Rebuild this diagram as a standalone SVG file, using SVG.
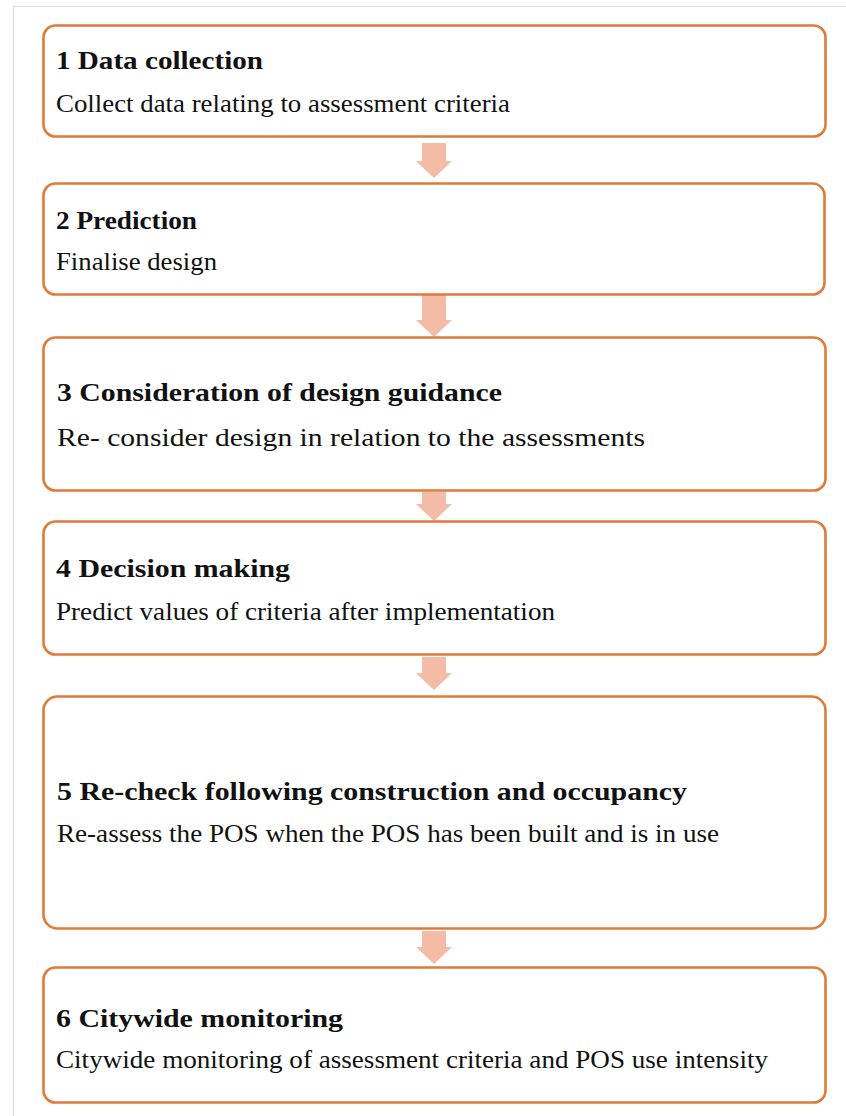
<svg xmlns="http://www.w3.org/2000/svg" width="846" height="1116" viewBox="0 0 846 1116">
  <style>
    .frame { fill: none; stroke: #dcdcdc; stroke-width: 1.2; }
    .box { fill: #ffffff; stroke: #e07a38; stroke-width: 2.6; }
    text { font-family: 'Liberation Serif', 'Times New Roman', Times, serif; font-size: 26px; fill: #111111; }
    .title { font-weight: bold; }
    .arrow { fill: #f4bba6; stroke: none; }
  </style>
  <rect x="0" y="0" width="846" height="1116" fill="#ffffff"/>
  <!-- page frame -->
  <path class="frame" d="M13.5,1116 V6.5 H846"/>

  <!-- connectors: block arrows between steps -->
  <g id="connectors">
    <path class="arrow" d="M422,143 H446 V161 H452 L434,178 L416,161 H422 Z"/>
    <path class="arrow" d="M422,295 H446 V320 H452 L434,337 L416,320 H422 Z"/>
    <path class="arrow" d="M422,492 H446 V504 H452 L434,521 L416,504 H422 Z"/>
    <path class="arrow" d="M422,657 H446 V673 H452 L434,690 L416,673 H422 Z"/>
    <path class="arrow" d="M422,931 H446 V947 H452 L434,964 L416,947 H422 Z"/>
  </g>

  <g id="step1">
    <rect class="box" x="43.5" y="25.5" width="782" height="111" rx="12"/>
    <text class="title" font-family="Liberation Serif, serif" x="56" y="69" textLength="207" lengthAdjust="spacingAndGlyphs">1 Data collection</text>
    <text class="body" font-family="Liberation Serif, serif" x="56" y="112" textLength="454" lengthAdjust="spacingAndGlyphs">Collect data relating to assessment criteria</text>
  </g>

  <g id="step2">
    <rect class="box" x="43.5" y="183.5" width="781" height="111" rx="12"/>
    <text class="title" x="56" y="229" textLength="141" lengthAdjust="spacingAndGlyphs">2 Prediction</text>
    <text class="body" x="56" y="270" textLength="161" lengthAdjust="spacingAndGlyphs">Finalise design</text>
  </g>

  <g id="step3">
    <rect class="box" x="43.5" y="337.5" width="782" height="153" rx="12"/>
    <text class="title" x="57" y="401" textLength="445" lengthAdjust="spacingAndGlyphs">3 Consideration of design guidance</text>
    <text class="body" x="57" y="446" textLength="588" lengthAdjust="spacingAndGlyphs">Re- consider design in relation to the assessments</text>
  </g>

  <g id="step4">
    <rect class="box" x="43.5" y="521.5" width="782" height="133" rx="12"/>
    <text class="title" x="56" y="577" textLength="234" lengthAdjust="spacingAndGlyphs">4 Decision making</text>
    <text class="body" x="56" y="620" textLength="499" lengthAdjust="spacingAndGlyphs">Predict values of criteria after implementation</text>
  </g>

  <g id="step5">
    <rect class="box" x="43.5" y="696.5" width="782" height="232" rx="14"/>
    <text class="title" x="57" y="800" textLength="630" lengthAdjust="spacingAndGlyphs">5 Re-check following construction and occupancy</text>
    <text class="body" x="57" y="842" textLength="662" lengthAdjust="spacingAndGlyphs">Re-assess the POS when the POS has been built and is in use</text>
  </g>

  <g id="step6">
    <rect class="box" x="43.5" y="967.5" width="782" height="135" rx="12"/>
    <text class="title" x="56" y="1027" textLength="287" lengthAdjust="spacingAndGlyphs">6 Citywide monitoring</text>
    <text class="body" x="56" y="1068" textLength="712" lengthAdjust="spacingAndGlyphs">Citywide monitoring of assessment criteria and POS use intensity</text>
  </g>
</svg>
